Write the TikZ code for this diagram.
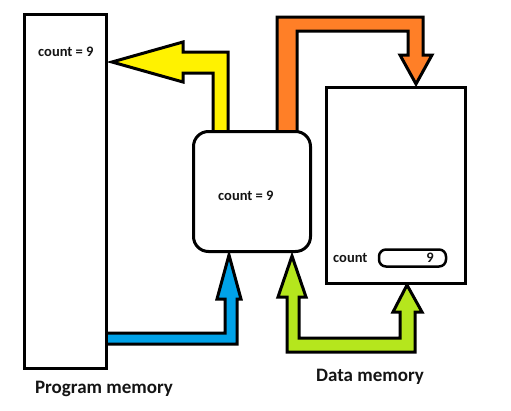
\documentclass[tikz,border=0pt]{standalone}
\usepackage{fontspec}
\setmainfont{Carlito}
\usepackage{tikz}
\usetikzlibrary{positioning}
\definecolor{yellowarrow}{RGB}{255, 242, 0}
\definecolor{orangearrow}{RGB}{255, 127, 39}
\definecolor{bluearrow}{RGB}{0, 162, 232}
\definecolor{greenarrow}{RGB}{181, 230, 29}
\definecolor{textcol}{RGB}{20, 20, 20}

\begin{document}
\begin{tikzpicture}[x=1pt,y=-1pt,
    membox/.style={draw,line width=3pt,fill=white,inner sep=0pt},
    blockarrow/.style={draw,line width=3pt,line join=miter},
    lbl/.style={font=\bfseries\fontsize{14.5}{16}\selectfont,text=textcol,inner sep=0pt},
    title/.style={font=\bfseries\fontsize{19}{22}\selectfont,text=textcol,inner sep=0pt}]
  \useasboundingbox (0,0) rectangle (511,410);
  % connectors
  \filldraw[blockarrow,fill=yellowarrow] (213,131) -- (213,73) -- (183,73) -- (183,82) -- (112,62)
    -- (183,42) -- (183,52) -- (228,52) -- (228,131);
  \filldraw[blockarrow,fill=orangearrow] (277,131) -- (277,17) -- (423,17) -- (423,55) -- (432,55)
    -- (416,84) -- (400,55) -- (408,55) -- (408,31) -- (297,31) -- (297,131);
  \filldraw[blockarrow,fill=bluearrow] (107,333) -- (225,333) -- (225,299) -- (217,299) -- (229,255)
    -- (241,299) -- (237,299) -- (237,344) -- (107,344);
  \filldraw[blockarrow,fill=greenarrow] (287,297) -- (278,297) -- (292,256) -- (306,297) -- (299,297)
    -- (299,338) -- (400,338) -- (400,312) -- (393,312) -- (407,285) -- (422,312) -- (415,312)
    -- (415,352) -- (287,352) -- cycle;
  % boxes
  \node[membox,minimum width=82pt,minimum height=354pt] (prog) at (65.5,191.5) {};
  \node[membox,rounded corners=15pt,minimum width=117pt,minimum height=120pt] (cpu) at (252,191.5) {};
  \node[membox,minimum width=139pt,minimum height=196pt] (data) at (396,185.5) {};
  \node[membox,line width=2.5pt,rounded corners=7pt,minimum width=67pt,minimum height=17pt] (val) at (412.5,258) {};
  % texts
  \node[lbl,anchor=west] (progcount) at (38,52) {count = 9};
  \node[lbl,anchor=west] (cpucount) at (218,196) {count = 9};
  \node[lbl,anchor=west] (datacount) at (333,258) {count};
  \node[lbl,anchor=east] (valtext) at (434,258) {9};
  \node[title] (progtitle) at (104,389) {Program memory};
  \node[title] (datatitle) at (370,377) {Data memory};
\end{tikzpicture}
\end{document}
